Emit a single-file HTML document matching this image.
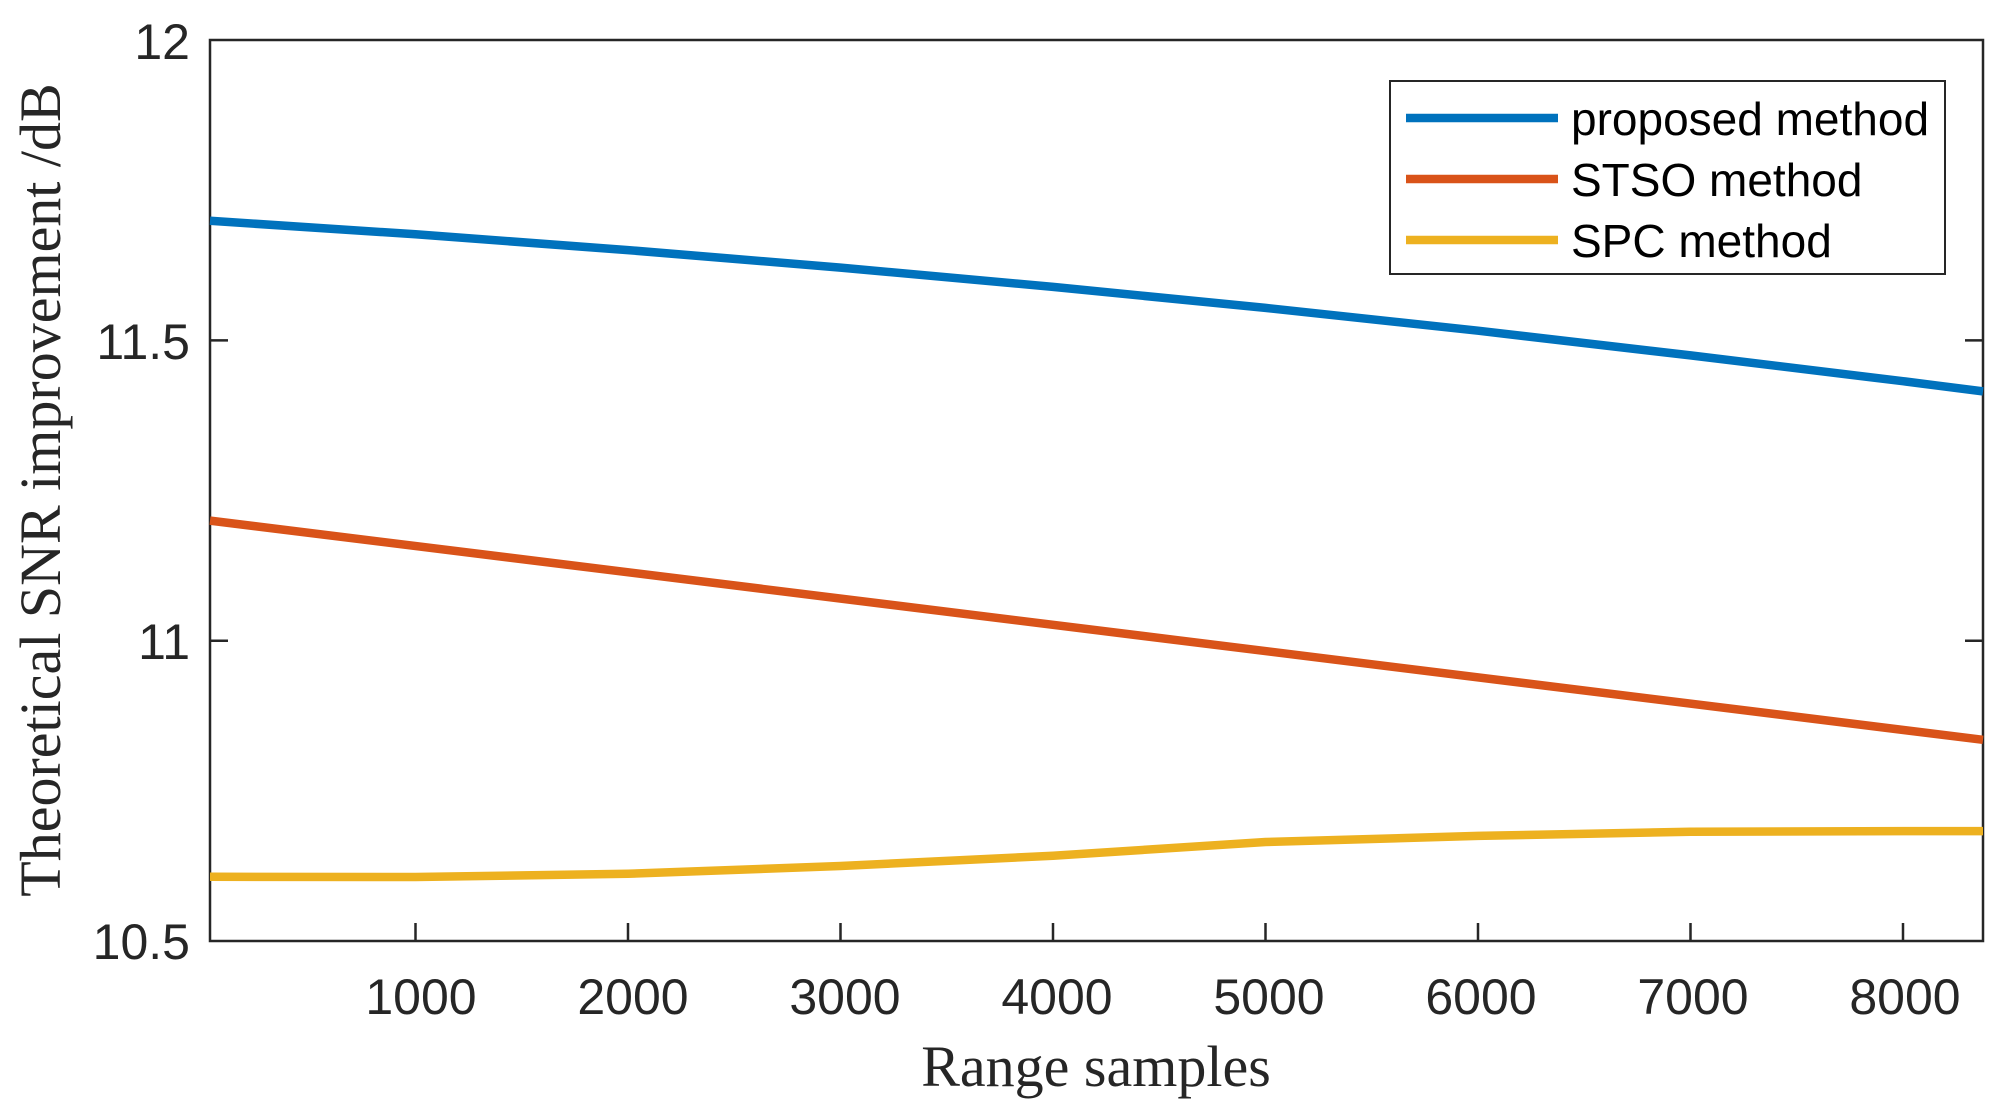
<!DOCTYPE html>
<html><head><meta charset="utf-8"><style>
html,body{margin:0;padding:0;background:#fff;}
svg{display:block;}
</style></head><body>
<svg width="1995" height="1119" viewBox="0 0 1995 1119" xmlns="http://www.w3.org/2000/svg">
<rect width="1995" height="1119" fill="#fff"/>
<g stroke="#262626" stroke-width="2.5" fill="none">
<rect x="210" y="40" width="1773" height="901"/>
<path d="M210 340.4h18M210 640.7h18M1983 340.4h-18M1983 640.7h-18"/>
<path d="M415.5 941v-18M628 941v-18M840.5 941v-18M1053 941v-18M1265.5 941v-18M1478 941v-18M1690.5 941v-18M1903 941v-18"/>
</g>
<g font-family="Liberation Sans, sans-serif" font-size="50" fill="#262626">
<g text-anchor="end">
<text x="190" y="59">12</text>
<text x="190" y="359">11.5</text>
<text x="190" y="659">11</text>
<text x="190" y="959">10.5</text>
</g>
<g text-anchor="middle">
<text x="421" y="1014">1000</text>
<text x="633" y="1014">2000</text>
<text x="845" y="1014">3000</text>
<text x="1057" y="1014">4000</text>
<text x="1269" y="1014">5000</text>
<text x="1481" y="1014">6000</text>
<text x="1693" y="1014">7000</text>
<text x="1905" y="1014">8000</text>
</g>
</g>
<g font-family="Liberation Serif, serif" font-size="58" fill="#262626" text-anchor="middle">
<text x="1096" y="1086">Range samples</text>
<text transform="translate(60,490) rotate(-90)">Theoretical SNR improvement /dB</text>
</g>
<g fill="none" stroke-width="8.5" stroke-linejoin="round" stroke-linecap="butt">
<polyline stroke="#0072BD" points="210,220.8 415.5,234.3 628,250.1 840.5,267.6 1053,286.9 1265.5,307.9 1478,330.7 1690.5,355.4 1903,381.2 1983,391.4"/>
<polyline stroke="#D95319" points="210,520.6 1983,739.8"/>
<polyline stroke="#EDB120" points="210,876.8 415.5,877 628,873.8 840.5,866 1053,855.7 1265.5,842 1478,835.9 1690.5,831.7 1903,831.1 1983,831.1"/>
</g>
<rect x="1390" y="81" width="555" height="193" fill="#fff" stroke="#262626" stroke-width="2"/>
<g stroke-width="8.5">
<line x1="1406" y1="118" x2="1558" y2="118" stroke="#0072BD"/>
<line x1="1406" y1="179" x2="1558" y2="179" stroke="#D95319"/>
<line x1="1406" y1="240" x2="1558" y2="240" stroke="#EDB120"/>
</g>
<g font-family="Liberation Sans, sans-serif" font-size="46" fill="#000">
<text x="1571" y="135">proposed method</text>
<text x="1571" y="196">STSO method</text>
<text x="1571" y="257">SPC method</text>
</g>
</svg>
</body></html>
